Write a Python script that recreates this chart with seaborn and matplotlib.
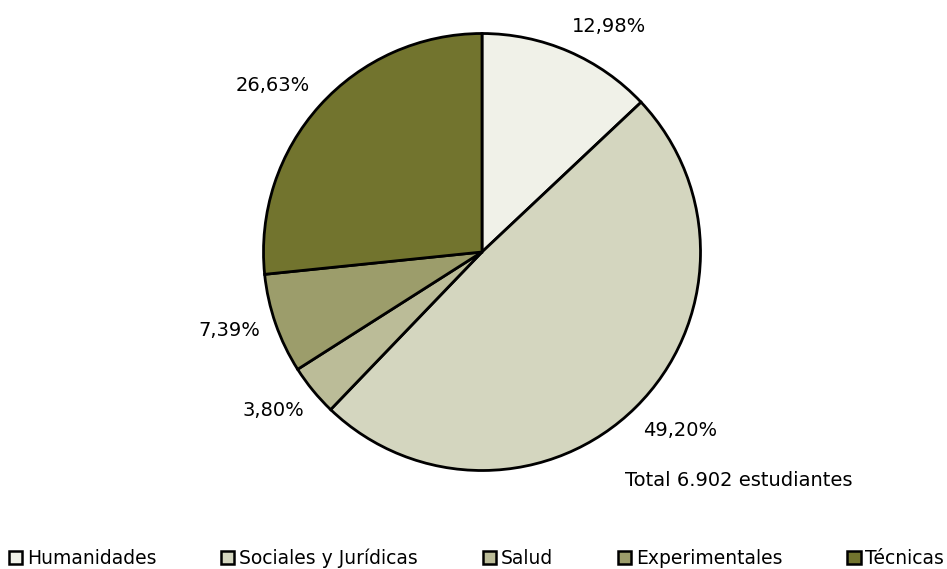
import matplotlib
matplotlib.use("Agg")
import matplotlib.pyplot as plt
import seaborn as sns
from matplotlib.patches import Patch

categorias = ["Humanidades", "Sociales y Jurídicas", "Salud", "Experimentales", "Técnicas"]
porcentajes = [12.98, 49.20, 3.80, 7.39, 26.63]
colores = ["#F0F1E8", "#D4D6BF", "#BBBC98", "#9C9D6B", "#72742E"]
nota_total = "Total 6.902 estudiantes"

# label placement (pixel coords from top-left), layout only
pos_etiquetas = [(609, 26), (680, 431), (273, 410), (229, 331), (273, 85)]

sns.set_theme(style="white")
plt.rcParams["font.family"] = ["DejaVu Sans"]

W, H = 947, 569
fig = plt.figure(figsize=(W / 100, H / 100), dpi=100)
ax = fig.add_axes([0, 0, 1, 1])

etiquetas = [f"{v:.2f}".replace(".", ",") + "%" for v in porcentajes]
wedges, texts = ax.pie(
    porcentajes, colors=colores, startangle=90, counterclock=False,
    labels=etiquetas, center=(482, H - 252), radius=218.5,
    wedgeprops=dict(edgecolor="black", linewidth=2),
    textprops=dict(fontsize=14, color="black"), frame=True,
)
for t, (px, py) in zip(texts, pos_etiquetas):
    t.set_position((px, H - py))
    t.set_ha("center")
    t.set_va("center")
ax.set_xlim(0, W)
ax.set_ylim(0, H)
ax.set_aspect("equal")
ax.axis("off")

ax.text(739, H - 481, nota_total, ha="center", va="center", fontsize=14, color="black")

handles = [Patch(facecolor=c, edgecolor="black", linewidth=1.8) for c in colores]
fig.legend(handles, categorias, loc="lower center", bbox_to_anchor=(0.503, -0.012),
           ncol=5, frameon=False, fontsize=13.5, handlelength=0.72, handleheight=0.72,
           handletextpad=0.25, columnspacing=3.45, borderaxespad=0, labelcolor="black")

fig.savefig("out.png", dpi=100)
